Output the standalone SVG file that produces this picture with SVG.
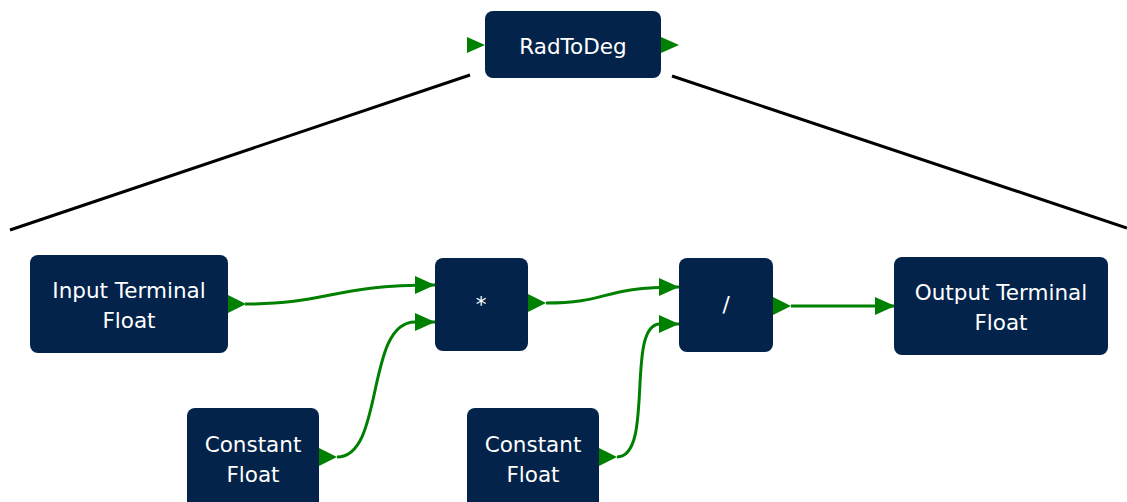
<svg xmlns="http://www.w3.org/2000/svg" width="1127" height="502" viewBox="0 0 1127 502">
<style>
.node{fill:#03234b;}
.port{fill:#008000;}
.lbl{fill:#ffffff;font-family:"DejaVu Sans","Open Sans",sans-serif;font-size:21.5px;text-anchor:middle;}
.wire{fill:none;stroke:#008000;stroke-width:3;}
.zoomline{stroke:#000000;stroke-width:3;fill:none;}
</style>
<defs>
<marker id="arr" markerUnits="userSpaceOnUse" markerWidth="20" markerHeight="18" viewBox="0 0 20 18" refX="20" refY="9" orient="auto">
<path d="M0,0 L20,9 L0,18 Z" fill="#008000"/>
</marker>
</defs>
<g id="zoom-lines">
<line class="zoomline" x1="470" y1="75" x2="10" y2="230"/>
<line class="zoomline" x1="672" y1="76" x2="1127" y2="228"/>
</g>
<g id="radtodeg">
<rect class="node" x="485" y="11" width="176" height="67" rx="8"/>
<path class="port" d="M467,37 L485,45 L467,53 Z"/>
<path class="port" d="M661,37 L679,45 L661,53 Z"/>
<text class="lbl" x="573" y="54">RadToDeg</text>
</g>
<g id="connectors">
<path class="wire" marker-end="url(#arr)" d="M245,304 C330,304 330,285 435,285"/>
<path class="wire" marker-end="url(#arr)" d="M337,457 C385,457 365,322 415,322 L435,322"/>
<path class="wire" marker-end="url(#arr)" d="M546,303 C610,303 600,287 679,287"/>
<path class="wire" marker-end="url(#arr)" d="M617,457 C655,457 625,324 660,324 L679,324"/>
<path class="wire" marker-end="url(#arr)" d="M791,306 L895,306"/>
</g>
<g id="input-terminal">
<rect class="node" x="30" y="255" width="198" height="98" rx="8"/>
<path class="port" d="M228,295 L246,304 L228,313 Z"/>
<text class="lbl" x="129" y="298">Input Terminal</text>
<text class="lbl" x="129" y="328">Float</text>
</g>
<g id="multiply">
<rect class="node" x="435" y="258" width="93" height="93" rx="8"/>
<path class="port" d="M528,294 L546,303 L528,312 Z"/>
<text class="lbl" x="481" y="312">*</text>
</g>
<g id="constant-1">
<rect class="node" x="187" y="408" width="132" height="110" rx="8"/>
<path class="port" d="M319,448 L337,457 L319,466 Z"/>
<text class="lbl" x="253" y="452">Constant</text>
<text class="lbl" x="253" y="482">Float</text>
</g>
<g id="divide">
<rect class="node" x="679" y="258" width="94" height="94" rx="8"/>
<path class="port" d="M773,297 L791,306 L773,315 Z"/>
<text class="lbl" x="726" y="312">/</text>
</g>
<g id="constant-2">
<rect class="node" x="467" y="408" width="132" height="110" rx="8"/>
<path class="port" d="M599,448 L617,457 L599,466 Z"/>
<text class="lbl" x="533" y="452">Constant</text>
<text class="lbl" x="533" y="482">Float</text>
</g>
<g id="output-terminal">
<rect class="node" x="894" y="257" width="214" height="98" rx="8"/>
<text class="lbl" x="1001" y="300">Output Terminal</text>
<text class="lbl" x="1001" y="330">Float</text>
</g>
</svg>
